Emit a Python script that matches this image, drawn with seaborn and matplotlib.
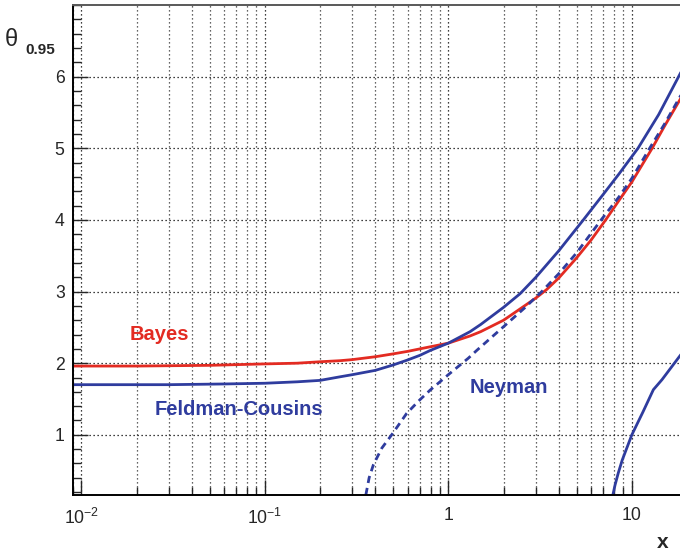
import numpy as np
import pandas as pd
import seaborn as sns
import matplotlib
matplotlib.use('Agg')
import matplotlib.pyplot as plt
from matplotlib.ticker import FixedLocator, MultipleLocator, LogLocator, FuncFormatter, NullFormatter

# Curves
bayes_x = [0.009, 0.02, 0.05, 0.1, 0.15, 0.2, 0.257, 0.3, 0.4, 0.5, 0.6, 0.7, 0.8, 1.0, 1.313,
           1.5, 2.0, 2.5, 3.0, 3.44, 4.0, 5.0, 6.0, 7.2, 8.5, 10.0, 12.9, 15.0, 18.5]
bayes_y = [1.96, 1.96, 1.97, 1.99, 2.00, 2.02, 2.035, 2.05, 2.09, 2.13, 2.165, 2.20, 2.23, 2.28, 2.38,
           2.44, 2.60, 2.77, 2.91, 3.03, 3.19, 3.47, 3.72, 4.0, 4.27, 4.53, 5.0, 5.3, 5.70]

fc_x = [0.009, 0.03, 0.06, 0.1, 0.15, 0.2, 0.257, 0.3, 0.4, 0.5, 0.6, 0.7, 0.8, 1.0, 1.313,
        1.5, 2.0, 2.46, 3.0, 4.0, 5.44, 7.0, 8.5, 10.8, 14.0, 18.5]
fc_y = [1.70, 1.70, 1.71, 1.72, 1.74, 1.76, 1.81, 1.84, 1.90, 1.975, 2.045, 2.11, 2.18, 2.28, 2.44,
        2.54, 2.78, 2.97, 3.20, 3.57, 4.0, 4.36, 4.64, 5.0, 5.47, 6.06]

ney_x = [0.355, 0.37, 0.39, 0.434, 0.491, 0.593, 0.70, 0.8, 0.9, 1.0, 1.285, 1.43, 2.0, 2.6,
         3.23, 4.0, 5.0, 6.8, 8.5, 10.0, 12.5, 15.0, 18.5]
ney_y = [0.16, 0.40, 0.58, 0.815, 1.0, 1.30, 1.49, 1.63, 1.74, 1.84, 2.07, 2.18, 2.51, 2.77,
         3.0, 3.25, 3.54, 4.0, 4.32, 4.58, 5.0, 5.33, 5.74]

fc_low_x = [7.88, 8.1, 8.44, 8.87, 10.0, 11.5, 13.1, 14.6, 18.5]
fc_low_y = [0.16, 0.30, 0.47, 0.65, 1.0, 1.32, 1.63, 1.77, 2.12]

x_ticks = [0.01, 0.1, 1, 10]
x_ticklabels = [r'$10^{-2}$', r'$10^{-1}$', '1', '10']
y_ticks = [1, 2, 3, 4, 5, 6]

RED = '#e32b22'
BLUE = '#2f3c9e'

sns.set_style('ticks')
plt.rcParams['font.family'] = ['Liberation Sans', 'DejaVu Sans']
plt.rcParams['mathtext.fontset'] = 'custom'
plt.rcParams['mathtext.rm'] = 'Liberation Sans'
plt.rcParams['mathtext.it'] = 'Liberation Sans'

fig = plt.figure(figsize=(6.8, 5.57), dpi=100)
ax = fig.add_axes([73 / 680, 62 / 557, 607 / 680, 490 / 557])

line_kw = dict(ax=ax, linewidth=2.0, sort=False, estimator=None)
sns.lineplot(x=bayes_x, y=bayes_y, color=RED, **line_kw)
sns.lineplot(x=fc_x, y=fc_y, color=BLUE, **line_kw)
sns.lineplot(x=ney_x, y=ney_y, color=BLUE, linestyle=(0, (2.6, 1.8)), **line_kw)
sns.lineplot(x=fc_low_x, y=fc_low_y, color=BLUE, **line_kw)

ax.set_xscale('log')
ax.set_xlim(0.009, 18.3)
ax.set_ylim(0.16, 7.0)

ax.xaxis.set_major_locator(FixedLocator(x_ticks))
ax.xaxis.set_major_formatter(FuncFormatter(lambda v, p: x_ticklabels[x_ticks.index(v)] if v in x_ticks else ''))
ax.xaxis.set_minor_locator(LogLocator(base=10, subs=np.arange(2, 10)))
ax.xaxis.set_minor_formatter(NullFormatter())
ax.yaxis.set_major_locator(FixedLocator(y_ticks))
ax.yaxis.set_minor_locator(MultipleLocator(0.2))

ax.tick_params(which='both', direction='in', top=False, right=False, labelsize=12.7, width=1.0)
ax.tick_params(which='major', length=11)
ax.tick_params(which='minor', length=5.8)
ax.tick_params(axis='y', pad=6)
ax.tick_params(axis='x', pad=9)

ax.grid(which='major', axis='both', color='black', linestyle=(0, (1, 2.2)), lw=0.9)
ax.grid(which='minor', axis='x', color='0.2', linestyle=(0, (1, 2.2)), lw=0.9)

for s in ['left', 'bottom']:
    ax.spines[s].set_color('black')
    ax.spines[s].set_linewidth(1.4)
ax.spines['top'].set_color('0.35')
ax.spines['top'].set_linewidth(1.4)
ax.spines['right'].set_visible(False)

ax.set_xlabel('')
ax.set_ylabel('')

ax.text(0.01837, 2.32, 'Bayes', color=RED, fontsize=14.5, fontweight='bold', va='baseline')
ax.text(0.0252, 1.28, 'Feldman-Cousins', color=BLUE, fontsize=14.5, fontweight='bold', va='baseline')
ax.text(1.313, 1.585, 'Neyman', color=BLUE, fontsize=14.5, fontweight='bold', va='baseline')

fig.text(663 / 680, 1 - 543 / 557, 'x', fontsize=15, fontweight='bold', ha='center', va='center')
fig.text(5 / 680, 1 - 40 / 557, 'θ', fontsize=17, ha='left', va='center')
fig.text(25 / 680, 1 - 50 / 557, '0.95', fontsize=11, fontweight='bold', ha='left', va='center')

fig.savefig('out.png', dpi=100)
